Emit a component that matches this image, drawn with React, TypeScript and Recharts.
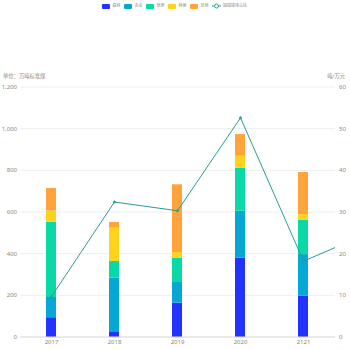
import React from 'react';
import { ComposedChart, Bar, Line, XAxis, YAxis, CartesianGrid } from 'recharts';

const years = ['2017', '2018', '2019', '2020', '2121'];
const forest = [95, 24, 165, 381, 198];
const agri = [97, 261, 99, 225, 200];
const grass = [361, 80, 117, 207, 165];
const wood = [55, 160, 27, 57, 27];
const other = [107, 27, 325, 104, 202];
const ratio = [9.7, 32.4, 30.3, 52.6, 18.2, 24.7];

const leftTicks = [0, 200, 400, 600, 800, 1000, 1200];
const rightTicks = [0, 10, 20, 30, 40, 50, 60];

const seriesNames = ['森林', '农业', '草原', '林地', '其他'];
const lineName = '固碳碳排占比';
const colors = ['#2233FF', '#05A8D5', '#08D9A7', '#FFD31C', '#FFA33A'];
const lineColor = '#2A9D94';

const data = ratio.map((r, i) => ({
  x: i,
  forest: forest[i],
  agri: agri[i],
  grass: grass[i],
  wood: wood[i],
  other: other[i],
  ratio: r,
}));

const keys = ['forest', 'agri', 'grass', 'wood', 'other'];

const fmt = (v: number) => v.toLocaleString('en-US');
const FONT = '"Noto Sans", "Noto Sans CJK SC", sans-serif';

const LegendBox = () => (
  <div style={{ position: 'absolute', left: 102, top: 2, height: 8, display: 'flex', alignItems: 'center', fontSize: 4, lineHeight: '8px', color: '#888', gap: 3.5, whiteSpace: 'nowrap' }}>
    {seriesNames.map((n, i) => (
      <div key={n} style={{ display: 'flex', alignItems: 'center' }}>
        <div style={{ width: 8, height: 5, background: colors[i], marginRight: 2.5, borderRadius: 1 }} />
        <span>{n}</span>
      </div>
    ))}
    <div style={{ display: 'flex', alignItems: 'center' }}>
      <svg width={9} height={6} style={{ marginRight: 2 }}>
        <line x1={0} y1={3} x2={9} y2={3} stroke={lineColor} strokeWidth={1} />
        <circle cx={4.5} cy={3} r={2} fill="#fff" stroke={lineColor} strokeWidth={1} />
      </svg>
      <span>{lineName}</span>
    </div>
  </div>
);

export default function App() {
  return (
    <div style={{ position: 'absolute', left: 0, top: 0, width: 350, height: 350, background: '#fff', fontFamily: FONT }}>
      <LegendBox />
      <div style={{ position: 'absolute', left: 3, top: 72, fontSize: 5.3, color: '#888' }}>单位：万吨标准煤</div>
      <div style={{ position: 'absolute', right: 5, top: 72, fontSize: 5.3, color: '#888' }}>吨/万元</div>
      <ComposedChart width={350} height={350} data={data} margin={{ top: 87, right: 0, bottom: 0, left: 0 }} style={{ fontFamily: FONT }}>
        <CartesianGrid yAxisId="left" vertical={false} stroke="#EEEEEE" />
        <XAxis
          dataKey="x"
          type="number"
          domain={[-0.5, 4.5]}
          ticks={[0, 1, 2, 3, 4]}
          allowDataOverflow
          tickFormatter={(v: number) => years[v]}
          height={13}
          tickLine={false}
          tickSize={2}
          axisLine={{ stroke: '#DDDDDD' }}
          tick={{ fontSize: 6, fill: '#888' }}
          tickMargin={1}
          interval={0}
        />
        <YAxis
          yAxisId="left"
          domain={[0, 1200]}
          ticks={leftTicks}
          width={20}
          tickLine={false}
          tickSize={2}
          axisLine={false}
          tickFormatter={fmt}
          tick={{ fontSize: 6, fill: '#888' }}
          tickMargin={1}
        />
        <YAxis
          yAxisId="right"
          orientation="right"
          domain={[0, 60]}
          ticks={rightTicks}
          width={15}
          tickLine={false}
          tickSize={2}
          axisLine={false}
          tick={{ fontSize: 6, fill: '#888' }}
          tickMargin={2}
        />
        {keys.map((k, i) => (
          <Bar key={k} yAxisId="left" dataKey={k} name={seriesNames[i]} stackId="a" fill={colors[i]} barSize={10} isAnimationActive={false} />
        ))}
        <Line
          yAxisId="right"
          dataKey="ratio"
          name={lineName}
          stroke={lineColor}
          strokeWidth={1}
          dot={{ r: 1, fill: lineColor, stroke: lineColor, strokeWidth: 1 }}
          isAnimationActive={false}
        />
      </ComposedChart>
    </div>
  );
}
